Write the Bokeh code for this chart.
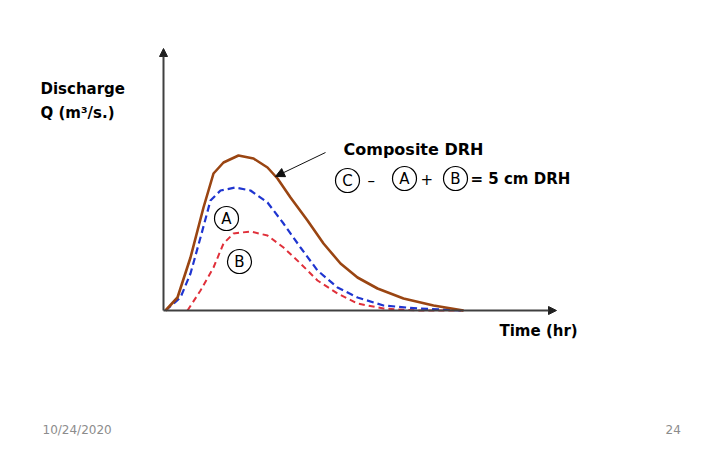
from bokeh.plotting import figure
from bokeh.models import Range1d, Arrow, NormalHead, Label
from bokeh.embed import file_html
from bokeh.resources import INLINE

# Composite DRH (C) - time in hr, discharge Q
t_c = [0.2, 1.4, 2.7, 4.0, 5.0, 6.0, 7.5, 9.0, 10.4, 11.4, 12.7, 14.4, 16.0, 17.7, 19.4, 21.4, 24.0, 27.0, 30.0]
q_c = [0.0, 1.3, 5.3, 10.3, 13.7, 14.8, 15.5, 15.2, 14.3, 13.2, 11.3, 9.0, 6.7, 4.7, 3.3, 2.2, 1.2, 0.5, 0.0]
# DRH A (blue dashed)
t_a = [0.2, 1.7, 2.7, 3.7, 4.7, 5.7, 7.2, 8.7, 10.4, 12.0, 13.7, 15.4, 17.4, 19.4, 22.0, 25.4, 30.0]
q_a = [0.0, 1.3, 3.7, 7.3, 11.0, 12.0, 12.3, 12.0, 10.8, 8.7, 6.3, 4.0, 2.3, 1.3, 0.5, 0.2, 0.0]
# DRH B (red dashed)
t_b = [2.4, 3.7, 5.0, 6.0, 7.0, 8.7, 10.4, 12.0, 13.7, 15.4, 17.4, 19.4, 22.0, 25.4, 30.0]
q_b = [0.0, 2.0, 4.3, 6.7, 7.7, 7.9, 7.5, 6.3, 4.7, 3.0, 1.7, 0.7, 0.2, 0.0, 0.0]

p = figure(width=712, height=446, output_backend="svg", toolbar_location=None,
           x_range=Range1d(-16.3, 54.9), y_range=Range1d(-13.6, 31.0),
           min_border=0, outline_line_color=None)
p.axis.visible = False
p.grid.visible = False

# axes with arrows
p.add_layout(Arrow(x_start=0, y_start=0, x_end=0, y_end=26.2, line_color="#404040", line_width=2,
                   end=NormalHead(size=8, fill_color="#202020", line_color="#202020")))
p.add_layout(Arrow(x_start=0, y_start=0, x_end=39.3, y_end=0, line_color="#404040", line_width=2,
                   end=NormalHead(size=8, fill_color="#202020", line_color="#202020")))

p.line(t_b, q_b, line_color="#e0303a", line_width=2, line_dash="6 4")
p.line(t_a, q_a, line_color="#1f35d0", line_width=2.2, line_dash="7 4")
p.line(t_c, q_c, line_color="#9a4512", line_width=2.6)

# pointer arrow
p.add_layout(Arrow(x_start=16.2, y_start=15.8, x_end=11.2, y_end=13.4, line_color="#111111", line_width=1,
                   end=NormalHead(size=9, fill_color="#111111", line_color="#111111")))

FONT = "DejaVu Sans"
def lab(x, y, text, size="15px", color="black", align="left", style="bold"):
    p.add_layout(Label(x=x, y=y, text=text, text_font=FONT, text_font_size=size,
                       text_font_style=style, text_color=color, text_align=align,
                       text_baseline="middle"))

lab(-12.3, 22.2, "Discharge")
lab(-12.3, 19.8, "Q (m³/s.)")
lab(18.0, 16.1, "Composite DRH", size="16px")
lab(33.6, -2.0, "Time (hr)")

# circled labels
circ_x = [18.4, 24.1, 29.2, 6.3, 7.6]
circ_y = [13.0, 13.2, 13.2, 9.2, 4.9]
circ_t = ["C", "A", "B", "A", "B"]
p.circle(circ_x, circ_y, radius=12, radius_units="screen", fill_color=None,
         line_color="black", line_width=1.2)
for cx, cy, ct in zip(circ_x, circ_y, circ_t):
    lab(cx, cy, ct, style="normal", align="center")
lab(20.4, 13.0, "–", style="normal")
lab(25.7, 13.2, "+", style="normal")
lab(30.7, 13.2, "= 5 cm  DRH")

lab(-12.1, -11.9, "10/24/2020", size="12px", color="#8c8c8c", style="normal")
lab(50.2, -11.9, "24", size="12px", color="#8c8c8c", style="normal")

open("out.html", "w").write(file_html(p, INLINE))
